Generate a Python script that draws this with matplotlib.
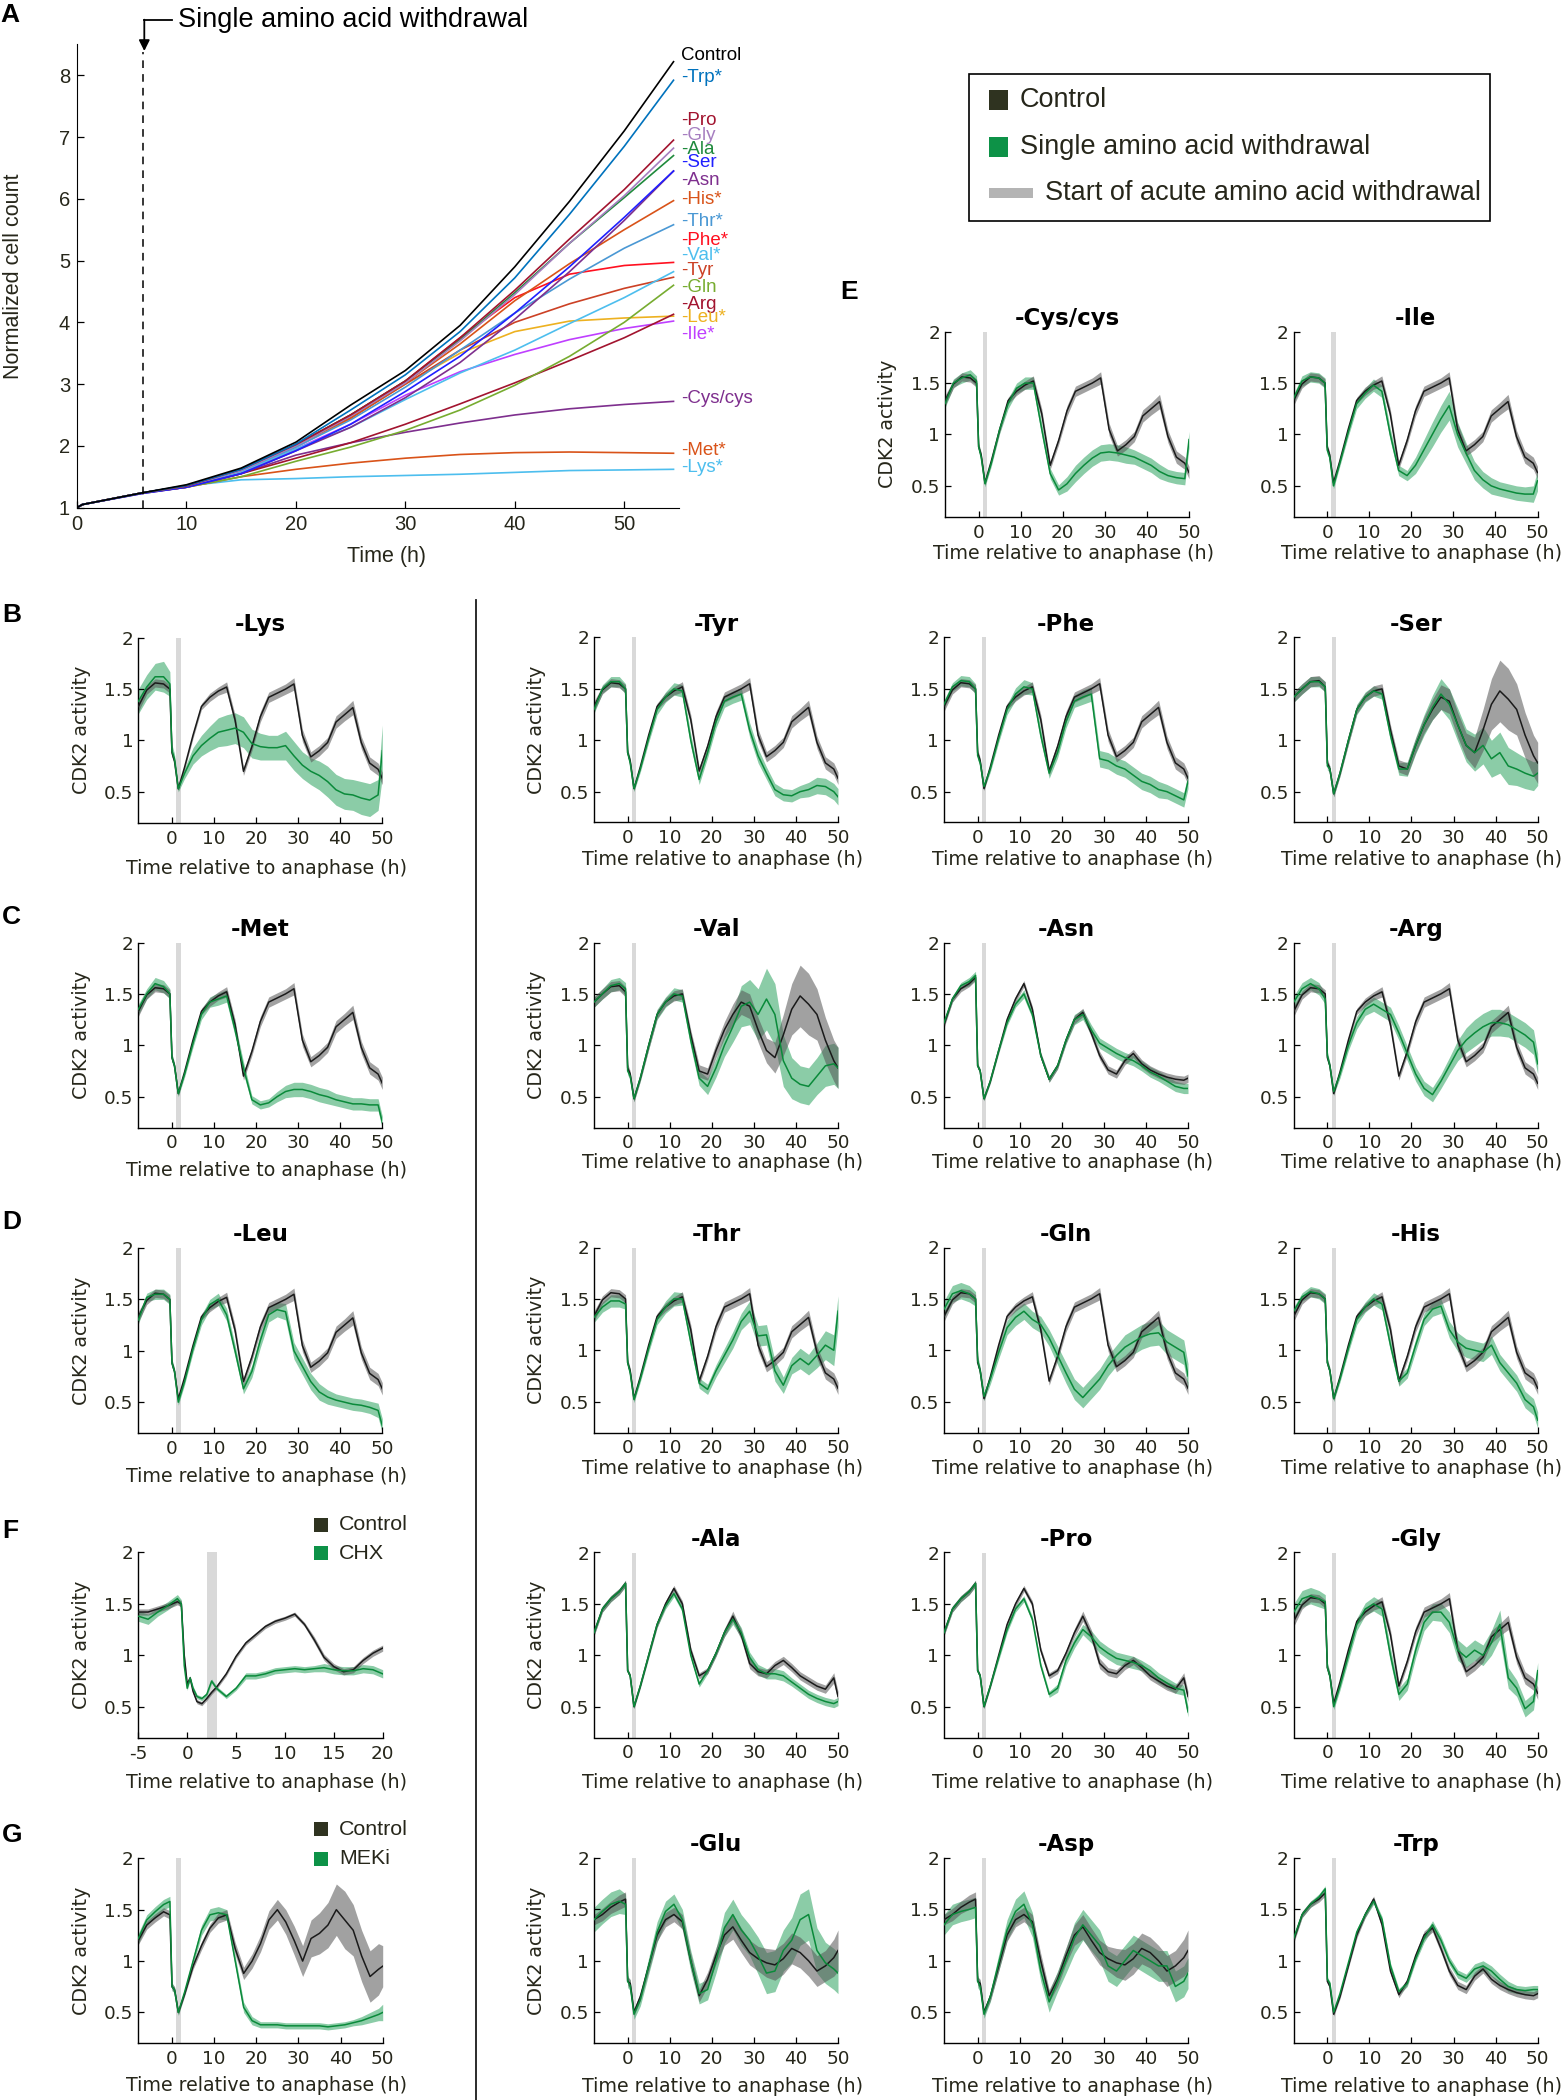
#!/usr/bin/python3
import matplotlib
matplotlib.use('Agg')
import matplotlib.pyplot as plt
from matplotlib.lines import Line2D
from matplotlib.patches import Rectangle, FancyArrowPatch
import numpy as np

W, H = 1562, 2100
TXT = '#26261a'
GREEN = '#0a8a3a'
GREEN_BAND = '#2ca25f'
GREY_BAND = '#555555'
ARIAL = ['Liberation Sans', 'DejaVu Sans']

# ---------------- panel A : normalized cell count ----------------
count_time = [0, 0.5, 6, 10, 15, 20, 25, 30, 35, 40, 45, 50, 54.5]
count_control = [1.0, 1.05, 1.24, 1.37, 1.64, 2.06, 2.66, 3.22, 3.95, 4.9, 5.96, 7.1, 8.22]
count_trp = [1.0, 1.05, 1.24, 1.36, 1.62, 2.03, 2.58, 3.15, 3.85, 4.72, 5.75, 6.85, 7.92]
count_pro = [1.0, 1.05, 1.24, 1.35, 1.62, 2.02, 2.5, 3.05, 3.75, 4.52, 5.35, 6.15, 6.95]
count_gly = [1.0, 1.05, 1.24, 1.35, 1.6, 2.0, 2.48, 3.02, 3.7, 4.45, 5.28, 6.05, 6.82]
count_ala = [1.0, 1.05, 1.24, 1.35, 1.62, 2.02, 2.5, 3.05, 3.72, 4.48, 5.28, 6.02, 6.7]
count_ser = [1.0, 1.05, 1.23, 1.33, 1.55, 1.92, 2.35, 2.88, 3.45, 4.15, 4.9, 5.7, 6.45]
count_asn = [1.0, 1.05, 1.23, 1.33, 1.55, 1.92, 2.3, 2.78, 3.35, 4.05, 4.82, 5.65, 6.45]
count_his = [1.0, 1.05, 1.24, 1.35, 1.62, 2.02, 2.45, 3.02, 3.65, 4.35, 4.95, 5.5, 5.97]
count_thr = [1.0, 1.05, 1.24, 1.35, 1.6, 1.98, 2.42, 2.95, 3.55, 4.15, 4.7, 5.2, 5.58]
count_phe = [1.0, 1.05, 1.24, 1.35, 1.62, 2.02, 2.5, 3.05, 3.75, 4.4, 4.78, 4.92, 4.97]
count_val = [1.0, 1.05, 1.24, 1.34, 1.58, 1.95, 2.3, 2.75, 3.18, 3.55, 3.98, 4.4, 4.82]
count_tyr = [1.0, 1.05, 1.24, 1.35, 1.62, 2.02, 2.45, 3.0, 3.55, 4.0, 4.3, 4.55, 4.73]
count_gln = [1.0, 1.05, 1.24, 1.33, 1.5, 1.75, 1.98, 2.25, 2.58, 2.98, 3.45, 4.0, 4.6]
count_arg = [1.0, 1.05, 1.24, 1.33, 1.55, 1.8, 2.05, 2.35, 2.68, 3.02, 3.38, 3.75, 4.13]
count_leu = [1.0, 1.05, 1.24, 1.35, 1.6, 1.98, 2.45, 3.0, 3.5, 3.85, 4.02, 4.07, 4.1]
count_ile = [1.0, 1.05, 1.24, 1.35, 1.58, 1.95, 2.35, 2.82, 3.2, 3.48, 3.72, 3.9, 4.02]
count_cys = [1.0, 1.05, 1.24, 1.33, 1.55, 1.85, 2.05, 2.22, 2.37, 2.5, 2.6, 2.67, 2.72]
count_met = [1.0, 1.05, 1.24, 1.33, 1.5, 1.62, 1.72, 1.8, 1.86, 1.89, 1.9, 1.89, 1.88]
count_lys = [1.0, 1.05, 1.24, 1.35, 1.45, 1.47, 1.5, 1.52, 1.54, 1.57, 1.6, 1.61, 1.62]

count_names = ['Control', '-Trp*', '-Pro', '-Gly', '-Ala', '-Ser', '-Asn', '-His*',
               '-Thr*', '-Phe*', '-Val*', '-Tyr', '-Gln', '-Arg', '-Leu*', '-Ile*',
               '-Cys/cys', '-Met*', '-Lys*']
count_series = [count_control, count_trp, count_pro, count_gly, count_ala, count_ser,
                count_asn, count_his, count_thr, count_phe, count_val, count_tyr,
                count_gln, count_arg, count_leu, count_ile, count_cys, count_met, count_lys]
count_colors = ['#000000', '#0072bd', '#a2142f', '#a67ec0', '#1f8a3c', '#2020ff',
                '#7e2f8e', '#d95319', '#4a98d4', '#ff1020', '#4dbeee', '#cc4125',
                '#77ac30', '#a2142f', '#edb120', '#bf3fff', '#7e2f8e', '#d95319', '#4dbeee']
count_label_y = [8.32, 7.97, 7.26, 7.03, 6.80, 6.58, 6.30, 5.99, 5.63, 5.32, 5.09,
                 4.84, 4.57, 4.29, 4.07, 3.80, 2.77, 1.93, 1.65]

# ---------------- CDK2 activity traces ----------------
t_cdk = [-8, -6, -4, -2, -0.5, 0, 0.6, 1.5, 3, 5, 7, 9, 11, 13, 15, 17, 19, 21, 23, 25,
         27, 29, 31, 33, 35, 37, 39, 41, 43, 45, 47, 49, 50]

ctrl_a = [1.33, 1.49, 1.56, 1.55, 1.5, 0.88, 0.8, 0.53, 0.74, 1.05, 1.33, 1.42, 1.48, 1.52, 1.2,
          0.7, 0.94, 1.23, 1.42, 1.46, 1.5, 1.55, 1.05, 0.84, 0.9, 0.98, 1.18, 1.25, 1.32, 0.98,
          0.78, 0.72, 0.63]
ctrl_a_err = [0.05, 0.04, 0.04, 0.04, 0.04, 0.03, 0.03, 0.02, 0.02, 0.03, 0.03, 0.04, 0.04, 0.05,
              0.05, 0.04, 0.04, 0.05, 0.05, 0.05, 0.05, 0.06, 0.06, 0.05, 0.05, 0.05, 0.06, 0.06,
              0.07, 0.06, 0.06, 0.06, 0.06]
ctrl_b = [1.42, 1.5, 1.57, 1.58, 1.52, 0.78, 0.72, 0.48, 0.68, 1.0, 1.3, 1.42, 1.48, 1.5, 1.1,
          0.75, 0.72, 0.95, 1.15, 1.3, 1.42, 1.38, 1.15, 0.95, 0.88, 1.1, 1.35, 1.48, 1.4, 1.3,
          1.05, 0.85, 0.78]
ctrl_b_err = [0.05, 0.05, 0.05, 0.05, 0.05, 0.04, 0.03, 0.03, 0.03, 0.04, 0.04, 0.04, 0.05, 0.05,
              0.05, 0.06, 0.06, 0.07, 0.08, 0.1, 0.12, 0.12, 0.12, 0.12, 0.15, 0.2, 0.25, 0.3,
              0.3, 0.25, 0.22, 0.2, 0.2]
ctrl_c = [1.22, 1.45, 1.55, 1.62, 1.7, 0.85, 0.8, 0.5, 0.7, 1.0, 1.3, 1.5, 1.65, 1.5, 1.05,
          0.8, 0.85, 1.02, 1.22, 1.38, 1.2, 0.92, 0.84, 0.82, 0.9, 0.95, 0.88, 0.8, 0.75, 0.7,
          0.67, 0.78, 0.6]
ctrl_c_err = [0.03, 0.03, 0.03, 0.03, 0.03, 0.02, 0.02, 0.02, 0.02, 0.02, 0.03, 0.03, 0.03, 0.03,
              0.03, 0.03, 0.03, 0.03, 0.04, 0.05, 0.05, 0.05, 0.04, 0.04, 0.04, 0.04, 0.04, 0.04,
              0.04, 0.04, 0.04, 0.05, 0.05]
ctrl_d = [1.2, 1.45, 1.55, 1.6, 1.66, 0.8, 0.75, 0.48, 0.65, 0.95, 1.25, 1.45, 1.6, 1.35, 0.9,
          0.67, 0.8, 1.05, 1.25, 1.32, 1.12, 0.9, 0.76, 0.72, 0.85, 0.92, 0.82, 0.76, 0.72, 0.69,
          0.67, 0.66, 0.68]
ctrl_d_err = [0.03, 0.03, 0.03, 0.03, 0.03, 0.02, 0.02, 0.02, 0.02, 0.02, 0.03, 0.03, 0.03, 0.03,
              0.03, 0.03, 0.03, 0.03, 0.04, 0.04, 0.04, 0.04, 0.04, 0.04, 0.04, 0.04, 0.04, 0.04,
              0.04, 0.04, 0.04, 0.04, 0.04]
ctrl_e = [1.4, 1.45, 1.52, 1.57, 1.6, 0.8, 0.78, 0.5, 0.65, 0.95, 1.25, 1.4, 1.45, 1.38, 1.0,
          0.66, 0.82, 1.05, 1.25, 1.33, 1.2, 1.08, 1.02, 0.98, 0.96, 1.02, 1.12, 1.08, 1.0, 0.9,
          0.95, 1.03, 1.1]
ctrl_e_err = [0.05, 0.06, 0.06, 0.07, 0.07, 0.04, 0.04, 0.03, 0.04, 0.05, 0.06, 0.07, 0.07, 0.07,
              0.07, 0.06, 0.07, 0.08, 0.1, 0.12, 0.12, 0.12, 0.12, 0.14, 0.15, 0.15, 0.15, 0.15,
              0.15, 0.15, 0.15, 0.18, 0.2]

lys = [1.38, 1.52, 1.62, 1.62, 1.55, 0.9, 0.82, 0.53, 0.68, 0.85, 0.95, 1.02, 1.08, 1.1, 1.12,
       1.08, 0.97, 0.94, 0.93, 0.93, 0.95, 0.85, 0.76, 0.7, 0.66, 0.6, 0.52, 0.48, 0.47, 0.44,
       0.42, 0.47, 0.9]
lys_err = [0.12, 0.12, 0.13, 0.15, 0.12, 0.06, 0.05, 0.03, 0.05, 0.08, 0.1, 0.12, 0.14, 0.15,
           0.15, 0.15, 0.14, 0.13, 0.12, 0.12, 0.14, 0.14, 0.13, 0.13, 0.14, 0.15, 0.15, 0.15,
           0.15, 0.16, 0.16, 0.15, 0.25]
met = [1.35, 1.5, 1.6, 1.57, 1.5, 0.88, 0.8, 0.53, 0.72, 1.02, 1.3, 1.42, 1.45, 1.48, 1.15,
       0.78, 0.47, 0.42, 0.44, 0.5, 0.55, 0.57, 0.57, 0.55, 0.52, 0.5, 0.47, 0.45, 0.43, 0.43,
       0.42, 0.42, 0.25]
met_err = [0.05, 0.05, 0.06, 0.06, 0.05, 0.04, 0.03, 0.03, 0.03, 0.04, 0.05, 0.05, 0.06, 0.06,
           0.06, 0.06, 0.04, 0.04, 0.04, 0.05, 0.06, 0.07, 0.07, 0.07, 0.07, 0.07, 0.06, 0.06,
           0.06, 0.06, 0.06, 0.06, 0.06]
leu = [1.3, 1.52, 1.55, 1.55, 1.5, 0.88, 0.8, 0.5, 0.7, 1.02, 1.3, 1.45, 1.5, 1.35, 1.0,
       0.63, 0.8, 1.1, 1.35, 1.4, 1.38, 1.0, 0.85, 0.7, 0.6, 0.55, 0.52, 0.5, 0.48, 0.47,
       0.45, 0.42, 0.27]
leu_err = [0.04, 0.04, 0.05, 0.05, 0.05, 0.04, 0.03, 0.03, 0.03, 0.04, 0.05, 0.05, 0.06, 0.06,
           0.06, 0.05, 0.06, 0.07, 0.07, 0.07, 0.08, 0.08, 0.08, 0.08, 0.08, 0.07, 0.06, 0.06,
           0.06, 0.06, 0.06, 0.07, 0.07]
cys = [1.3, 1.5, 1.55, 1.58, 1.52, 0.88, 0.78, 0.52, 0.72, 1.05, 1.3, 1.45, 1.5, 1.5, 1.05,
       0.62, 0.46, 0.52, 0.62, 0.7, 0.77, 0.82, 0.83, 0.82, 0.8, 0.78, 0.74, 0.7, 0.64, 0.6,
       0.58, 0.57, 0.95]
cys_err = [0.04, 0.04, 0.05, 0.05, 0.05, 0.04, 0.03, 0.03, 0.03, 0.04, 0.05, 0.05, 0.06, 0.06,
           0.06, 0.05, 0.05, 0.07, 0.08, 0.08, 0.08, 0.08, 0.08, 0.08, 0.08, 0.07, 0.07, 0.07,
           0.07, 0.06, 0.06, 0.06, 0.08]
ile = [1.35, 1.52, 1.56, 1.55, 1.5, 0.85, 0.78, 0.5, 0.72, 1.02, 1.3, 1.4, 1.48, 1.42, 1.0,
       0.65, 0.6, 0.7, 0.85, 1.0, 1.15, 1.28, 1.0, 0.82, 0.65, 0.56, 0.5, 0.47, 0.45, 0.43,
       0.42, 0.42, 0.55]
ile_err = [0.04, 0.05, 0.05, 0.05, 0.05, 0.04, 0.03, 0.03, 0.03, 0.04, 0.05, 0.05, 0.06, 0.06,
           0.06, 0.05, 0.05, 0.08, 0.1, 0.12, 0.13, 0.14, 0.12, 0.1, 0.09, 0.08, 0.08, 0.07,
           0.07, 0.07, 0.07, 0.08, 0.1]
tyr = [1.3, 1.5, 1.57, 1.57, 1.5, 0.88, 0.78, 0.53, 0.72, 1.02, 1.3, 1.42, 1.5, 1.48, 1.0,
       0.62, 0.88, 1.18, 1.38, 1.42, 1.45, 1.1, 0.85, 0.68, 0.52, 0.47, 0.46, 0.5, 0.52, 0.56,
       0.55, 0.5, 0.45]
tyr_err = [0.04, 0.04, 0.05, 0.05, 0.05, 0.04, 0.03, 0.03, 0.03, 0.04, 0.05, 0.05, 0.06, 0.06,
           0.06, 0.05, 0.05, 0.06, 0.06, 0.06, 0.06, 0.07, 0.07, 0.06, 0.06, 0.06, 0.06, 0.06,
           0.07, 0.08, 0.08, 0.08, 0.08]
phe = [1.35, 1.52, 1.58, 1.57, 1.5, 0.85, 0.78, 0.55, 0.72, 1.02, 1.3, 1.45, 1.52, 1.5, 1.05,
       0.68, 0.88, 1.18, 1.38, 1.42, 1.45, 0.82, 0.8, 0.75, 0.72, 0.66, 0.6, 0.57, 0.52, 0.5,
       0.46, 0.42, 0.6]
phe_err = [0.04, 0.04, 0.05, 0.05, 0.05, 0.04, 0.03, 0.03, 0.03, 0.04, 0.05, 0.06, 0.07, 0.06,
           0.06, 0.05, 0.05, 0.06, 0.06, 0.07, 0.07, 0.08, 0.08, 0.08, 0.08, 0.08, 0.08, 0.08,
           0.08, 0.07, 0.07, 0.07, 0.07]
ser = [1.42, 1.5, 1.57, 1.57, 1.52, 0.75, 0.72, 0.48, 0.68, 1.0, 1.3, 1.42, 1.48, 1.45, 1.05,
       0.72, 0.72, 0.95, 1.15, 1.32, 1.45, 1.35, 1.15, 0.95, 0.88, 0.95, 0.82, 0.88, 0.75, 0.72,
       0.68, 0.65, 0.68]
ser_err = [0.05, 0.05, 0.05, 0.05, 0.05, 0.04, 0.03, 0.03, 0.03, 0.04, 0.05, 0.05, 0.05, 0.05,
           0.06, 0.06, 0.07, 0.08, 0.1, 0.12, 0.15, 0.15, 0.16, 0.16, 0.18, 0.18, 0.18, 0.2,
           0.18, 0.16, 0.15, 0.14, 0.12]
val = [1.42, 1.5, 1.58, 1.6, 1.55, 0.75, 0.7, 0.48, 0.68, 1.0, 1.3, 1.42, 1.5, 1.48, 1.05,
       0.68, 0.6, 0.78, 1.0, 1.18, 1.38, 1.42, 1.3, 1.45, 1.3, 0.85, 0.68, 0.62, 0.6, 0.7,
       0.8, 0.82, 0.78]
val_err = [0.05, 0.05, 0.06, 0.06, 0.06, 0.04, 0.03, 0.03, 0.03, 0.04, 0.05, 0.05, 0.06, 0.06,
           0.07, 0.07, 0.08, 0.09, 0.11, 0.15, 0.2, 0.22, 0.25, 0.3, 0.3, 0.25, 0.2, 0.18, 0.18,
           0.18, 0.2, 0.2, 0.2]
asn = [1.22, 1.45, 1.58, 1.62, 1.68, 0.8, 0.75, 0.48, 0.65, 0.95, 1.22, 1.4, 1.5, 1.3, 0.9,
       0.67, 0.8, 1.05, 1.25, 1.3, 1.15, 1.02, 0.97, 0.92, 0.88, 0.85, 0.8, 0.74, 0.7, 0.65,
       0.6, 0.58, 0.58]
asn_err = [0.03, 0.03, 0.03, 0.04, 0.04, 0.03, 0.02, 0.02, 0.02, 0.03, 0.03, 0.03, 0.04, 0.04,
           0.03, 0.03, 0.03, 0.04, 0.05, 0.05, 0.05, 0.05, 0.05, 0.05, 0.05, 0.05, 0.05, 0.05,
           0.05, 0.05, 0.05, 0.05, 0.05]
arg = [1.42, 1.55, 1.6, 1.55, 1.45, 0.9, 0.8, 0.55, 0.72, 1.0, 1.22, 1.35, 1.4, 1.35, 1.3,
       1.12, 0.92, 0.72, 0.58, 0.52, 0.65, 0.8, 0.95, 1.05, 1.12, 1.18, 1.22, 1.22, 1.2, 1.15,
       1.1, 1.03, 0.82]
arg_err = [0.06, 0.06, 0.06, 0.06, 0.05, 0.04, 0.03, 0.03, 0.04, 0.05, 0.06, 0.06, 0.07, 0.07,
           0.07, 0.07, 0.07, 0.07, 0.07, 0.07, 0.07, 0.08, 0.1, 0.12, 0.13, 0.13, 0.13, 0.13,
           0.12, 0.12, 0.12, 0.12, 0.1]
thr = [1.32, 1.42, 1.48, 1.48, 1.45, 0.88, 0.78, 0.52, 0.72, 1.02, 1.3, 1.42, 1.5, 1.5, 1.08,
       0.68, 0.62, 0.8, 0.95, 1.1, 1.28, 1.38, 1.14, 1.15, 0.8, 0.66, 0.85, 0.92, 0.86, 0.95,
       1.05, 1.0, 1.38]
thr_err = [0.05, 0.05, 0.06, 0.06, 0.05, 0.04, 0.03, 0.03, 0.03, 0.04, 0.05, 0.06, 0.07, 0.06,
           0.06, 0.05, 0.05, 0.06, 0.07, 0.08, 0.08, 0.1, 0.1, 0.1, 0.1, 0.08, 0.08, 0.1, 0.1,
           0.12, 0.14, 0.15, 0.15]
gln = [1.4, 1.55, 1.58, 1.55, 1.5, 0.9, 0.8, 0.55, 0.72, 0.98, 1.22, 1.32, 1.38, 1.3, 1.25,
       1.12, 0.95, 0.78, 0.62, 0.54, 0.63, 0.72, 0.85, 0.95, 1.03, 1.08, 1.13, 1.16, 1.17, 1.08,
       1.03, 0.98, 0.75]
gln_err = [0.08, 0.08, 0.08, 0.08, 0.07, 0.05, 0.04, 0.04, 0.05, 0.06, 0.07, 0.08, 0.08, 0.08,
           0.08, 0.08, 0.09, 0.1, 0.1, 0.1, 0.1, 0.1, 0.1, 0.1, 0.12, 0.12, 0.12, 0.12, 0.12,
           0.12, 0.12, 0.12, 0.12]
his = [1.38, 1.52, 1.57, 1.55, 1.5, 0.88, 0.8, 0.53, 0.72, 1.02, 1.3, 1.42, 1.5, 1.45, 1.05,
       0.7, 0.78, 1.05, 1.3, 1.4, 1.43, 1.2, 1.08, 1.02, 1.0, 0.98, 1.05, 0.88, 0.78, 0.68,
       0.52, 0.45, 0.32]
his_err = [0.04, 0.04, 0.05, 0.05, 0.05, 0.04, 0.03, 0.03, 0.03, 0.04, 0.05, 0.05, 0.06, 0.06,
           0.06, 0.05, 0.05, 0.06, 0.06, 0.07, 0.07, 0.08, 0.09, 0.09, 0.09, 0.09, 0.09, 0.08,
           0.08, 0.08, 0.08, 0.08, 0.08]
ala = [1.22, 1.45, 1.55, 1.62, 1.7, 0.85, 0.8, 0.5, 0.7, 1.0, 1.3, 1.48, 1.6, 1.45, 1.0,
       0.72, 0.85, 1.02, 1.22, 1.35, 1.22, 0.98, 0.86, 0.82, 0.82, 0.8, 0.74, 0.68, 0.62, 0.58,
       0.55, 0.53, 0.55]
ala_err = [0.03, 0.03, 0.03, 0.03, 0.03, 0.02, 0.02, 0.02, 0.02, 0.03, 0.03, 0.03, 0.03, 0.03,
           0.03, 0.03, 0.03, 0.03, 0.04, 0.05, 0.05, 0.05, 0.05, 0.05, 0.05, 0.05, 0.04, 0.04,
           0.04, 0.04, 0.04, 0.04, 0.04]
pro = [1.22, 1.45, 1.55, 1.62, 1.7, 0.85, 0.8, 0.5, 0.7, 0.98, 1.25, 1.45, 1.55, 1.35, 0.9,
       0.62, 0.68, 0.95, 1.12, 1.25, 1.18, 1.08, 1.02, 0.97, 0.95, 0.93, 0.9, 0.85, 0.78, 0.73,
       0.68, 0.66, 0.45]
pro_err = [0.03, 0.03, 0.03, 0.03, 0.03, 0.02, 0.02, 0.02, 0.02, 0.03, 0.03, 0.03, 0.03, 0.03,
           0.03, 0.03, 0.04, 0.05, 0.05, 0.05, 0.06, 0.06, 0.06, 0.06, 0.06, 0.06, 0.05, 0.05,
           0.05, 0.05, 0.05, 0.05, 0.05]
gly = [1.42, 1.55, 1.58, 1.55, 1.52, 0.88, 0.8, 0.5, 0.7, 1.0, 1.3, 1.45, 1.5, 1.45, 1.0,
       0.62, 0.72, 1.05, 1.32, 1.42, 1.42, 1.32, 1.05, 0.98, 1.05, 1.0, 1.12, 1.3, 0.78, 0.68,
       0.48, 0.55, 0.85]
gly_err = [0.08, 0.08, 0.08, 0.08, 0.07, 0.05, 0.04, 0.03, 0.04, 0.05, 0.06, 0.06, 0.07, 0.07,
           0.07, 0.06, 0.06, 0.07, 0.08, 0.08, 0.09, 0.1, 0.1, 0.1, 0.1, 0.1, 0.12, 0.14, 0.1,
           0.08, 0.08, 0.08, 0.08]
glu = [1.4, 1.48, 1.55, 1.58, 1.55, 0.8, 0.76, 0.48, 0.62, 0.95, 1.28, 1.48, 1.55, 1.4, 1.0,
       0.68, 0.72, 1.0, 1.32, 1.45, 1.3, 1.2, 1.05, 0.88, 0.9, 1.1, 1.2, 1.4, 1.45, 1.1,
       0.98, 0.92, 0.88]
glu_err = [0.12, 0.12, 0.12, 0.12, 0.1, 0.06, 0.05, 0.05, 0.06, 0.08, 0.1, 0.1, 0.1, 0.1,
           0.1, 0.1, 0.1, 0.12, 0.15, 0.15, 0.15, 0.15, 0.18, 0.2, 0.2, 0.2, 0.22, 0.25, 0.25,
           0.22, 0.2, 0.2, 0.2]
asp = [1.35, 1.45, 1.48, 1.5, 1.52, 0.8, 0.75, 0.48, 0.65, 0.98, 1.3, 1.48, 1.55, 1.35, 0.9,
       0.6, 0.8, 1.0, 1.22, 1.35, 1.25, 1.15, 0.95, 0.9, 1.0, 1.1, 1.05, 1.0, 0.95, 0.95,
       0.75, 0.8, 0.88]
asp_err = [0.1, 0.1, 0.1, 0.1, 0.1, 0.06, 0.05, 0.04, 0.05, 0.08, 0.1, 0.12, 0.13, 0.12,
           0.1, 0.1, 0.1, 0.12, 0.15, 0.15, 0.15, 0.15, 0.15, 0.15, 0.15, 0.15, 0.15, 0.15,
           0.15, 0.15, 0.15, 0.15, 0.15]
trp = [1.22, 1.45, 1.55, 1.62, 1.7, 0.82, 0.78, 0.5, 0.68, 0.98, 1.28, 1.45, 1.58, 1.4, 0.95,
       0.7, 0.78, 1.02, 1.22, 1.35, 1.2, 1.0, 0.87, 0.83, 0.92, 0.95, 0.9, 0.82, 0.75, 0.72,
       0.71, 0.72, 0.72]
trp_err = [0.03, 0.03, 0.03, 0.03, 0.03, 0.02, 0.02, 0.02, 0.02, 0.03, 0.03, 0.03, 0.03, 0.03,
           0.03, 0.03, 0.03, 0.03, 0.04, 0.04, 0.04, 0.04, 0.04, 0.04, 0.05, 0.05, 0.05, 0.05,
           0.05, 0.04, 0.04, 0.04, 0.04]

# panel G : MEK inhibitor
ctrl_g = [1.2, 1.35, 1.42, 1.48, 1.45, 0.75, 0.72, 0.5, 0.68, 0.95, 1.15, 1.32, 1.42, 1.45, 1.12,
          0.88, 1.0, 1.17, 1.4, 1.5, 1.38, 1.2, 1.0, 1.22, 1.27, 1.35, 1.5, 1.4, 1.3, 1.05,
          0.85, 0.92, 0.95]
ctrl_g_err = [0.04, 0.04, 0.04, 0.04, 0.04, 0.03, 0.03, 0.02, 0.02, 0.03, 0.04, 0.04, 0.05, 0.05,
              0.06, 0.06, 0.07, 0.08, 0.09, 0.1, 0.12, 0.14, 0.15, 0.18, 0.2, 0.22, 0.25, 0.28,
              0.25, 0.25, 0.25, 0.25, 0.2]
meki = [1.22, 1.4, 1.48, 1.55, 1.58, 0.75, 0.72, 0.5, 0.7, 1.0, 1.3, 1.45, 1.47, 1.45, 1.0,
        0.55, 0.42, 0.38, 0.38, 0.38, 0.37, 0.37, 0.37, 0.37, 0.37, 0.36, 0.37, 0.38, 0.4, 0.42,
        0.45, 0.48, 0.5]
meki_err = [0.05, 0.05, 0.05, 0.05, 0.05, 0.04, 0.03, 0.03, 0.03, 0.04, 0.05, 0.06, 0.06, 0.05,
            0.05, 0.05, 0.04, 0.03, 0.03, 0.03, 0.03, 0.03, 0.03, 0.03, 0.03, 0.03, 0.03, 0.03,
            0.03, 0.04, 0.05, 0.06, 0.08]

# panel F : cycloheximide
t_chx = [-5, -4, -3, -2, -1, -0.6, -0.3, 0, 0.3, 0.6, 1, 1.5, 2, 2.5, 3, 4, 5, 6, 7, 8, 9, 10,
         11, 12, 13, 14, 15, 16, 17, 18, 19, 20]
ctrl_f = [1.42, 1.42, 1.45, 1.48, 1.52, 1.5, 1.0, 0.72, 0.78, 0.65, 0.55, 0.53, 0.58, 0.64, 0.69,
          0.82, 0.99, 1.12, 1.2, 1.28, 1.33, 1.36, 1.4, 1.3, 1.15, 0.98, 0.89, 0.84, 0.86, 0.95,
          1.02, 1.07]
ctrl_f_err = [0.03, 0.03, 0.03, 0.03, 0.03, 0.03, 0.02, 0.02, 0.02, 0.02, 0.02, 0.02, 0.02, 0.02,
              0.02, 0.02, 0.02, 0.02, 0.02, 0.02, 0.02, 0.02, 0.02, 0.02, 0.03, 0.03, 0.03, 0.03,
              0.03, 0.03, 0.03, 0.03]
chx = [1.38, 1.35, 1.42, 1.48, 1.55, 1.5, 0.9, 0.68, 0.78, 0.68, 0.6, 0.58, 0.62, 0.75, 0.68,
       0.6, 0.68, 0.8, 0.8, 0.82, 0.85, 0.86, 0.87, 0.86, 0.87, 0.88, 0.86, 0.85, 0.85, 0.87,
       0.86, 0.82]
chx_err = [0.05, 0.05, 0.04, 0.04, 0.04, 0.04, 0.03, 0.02, 0.02, 0.02, 0.02, 0.02, 0.02, 0.02,
           0.02, 0.02, 0.02, 0.03, 0.03, 0.03, 0.03, 0.03, 0.03, 0.03, 0.03, 0.04, 0.04, 0.04,
           0.04, 0.04, 0.04, 0.04]


def fx(px):
    return px / W


def fy(py):
    return 1 - py / H


def axes_px(fig, left, top, width, height):
    return fig.add_axes([left / W, 1 - (top + height) / H, width / W, height / H])


def letter(fig, x, y, s):
    fig.text(fx(x), fy(y), s, fontsize=19, fontweight='bold', family=ARIAL,
             ha='left', va='center', color='k')


def cdk2_panel(ax, t, ctrl, ctrl_err, trt, trt_err, title=None, ylabel=True,
               xlim=(-8, 50), xticks=(0, 10, 20, 30, 40, 50), bar=(1.0, 2.1), xgap=44):
    t = np.asarray(t)
    c, ce = np.asarray(ctrl), np.asarray(ctrl_err)
    g, ge = np.asarray(trt), np.asarray(trt_err)
    ax.axvspan(bar[0], bar[1], color='#d9d9d9', lw=0, zorder=0)
    ax.fill_between(t, g - ge, g + ge, color=GREEN_BAND, alpha=0.55, lw=0, zorder=1)
    ax.fill_between(t, c - ce, c + ce, color=GREY_BAND, alpha=0.55, lw=0, zorder=2)
    ax.plot(t, c, color='#1a1a1a', lw=1.1, zorder=3)
    ax.plot(t, g, color=GREEN, lw=1.1, zorder=4)
    ax.set_xlim(xlim)
    ax.set_ylim(0.2, 2)
    ax.set_xticks(list(xticks), labels=[str(v) for v in xticks], fontsize=13.2)
    ax.set_yticks([0.5, 1, 1.5, 2], labels=['0.5', '1', '1.5', '2'], fontsize=13.2)
    for s in ['top', 'right']:
        ax.spines[s].set_visible(False)
    for s in ['left', 'bottom']:
        ax.spines[s].set_linewidth(1.0)
    ax.tick_params(direction='in', length=4, width=0.9, labelcolor=TXT)
    ax.tick_params(axis='x', pad=5)
    ax.tick_params(axis='y', pad=3.5)
    ax.set_xlabel('Time relative to anaphase (h)', fontsize=13.7, color=TXT)
    ax.xaxis.set_label_coords(0.525, -(xgap - 11) / 185)
    if ylabel:
        ax.set_ylabel('CDK2 activity', fontsize=13.7, color=TXT)
        ax.yaxis.set_label_coords(-0.195, 0.5)
    if title:
        ax.set_title(title, fontsize=16.5, fontweight='bold', pad=5)


def small_legend(fig, x, y1, y2, names):
    for yc, col, name in [(y1, '#2f3320', names[0]), (y2, '#0d9247', names[1])]:
        fig.patches.append(Rectangle((fx(314), fy(yc + 7)), 14 / W, 14 / H,
                                     transform=fig.transFigure, color=col, lw=0))
        fig.text(fx(x), fy(yc), name, fontsize=15.4, family=ARIAL, color=TXT,
                 ha='left', va='center')


def main():
    plt.rcParams['font.family'] = ['DejaVu Sans']
    fig = plt.figure(figsize=(W / 100, H / 100), dpi=100)

    # ---- A ----
    axA = axes_px(fig, 77, 44.4, 602, 463.2)
    for vals, col in zip(count_series[::-1], count_colors[::-1]):
        axA.plot(count_time, vals, color=col, lw=1.2)
    axA.plot([6, 6], [1, 8.38], color='k', lw=1.1, ls=(0, (5, 4)))
    axA.set_xlim(0, 55)
    axA.set_ylim(1, 8.5)
    axA.set_xticks([0, 10, 20, 30, 40, 50], labels=['0', '10', '20', '30', '40', '50'],
                   fontsize=14.5, family=ARIAL)
    axA.set_yticks(range(1, 9), labels=[str(v) for v in range(1, 9)],
                   fontsize=14.5, family=ARIAL)
    for s in ['top', 'right']:
        axA.spines[s].set_visible(False)
    axA.tick_params(direction='in', length=5, width=0.9, labelcolor=TXT)
    axA.tick_params(axis='x', pad=5)
    axA.tick_params(axis='y', pad=5)
    axA.set_xlabel('Time (h)', fontsize=15.5, family=ARIAL, color=TXT)
    axA.xaxis.set_label_coords(0.514, -38 / 463.2)
    axA.set_ylabel('Normalized cell count', fontsize=15.5, family=ARIAL, color=TXT)
    axA.yaxis.set_label_coords(-53 / 602, 0.5)
    for name, yl, col in zip(count_names, count_label_y, count_colors):
        axA.text(55.2, yl, name, color=col, fontsize=13.5, family=ARIAL,
                 ha='left', va='center', clip_on=False)
    fig.add_artist(Line2D([fx(144.3), fx(171.6)], [fy(20.3), fy(20.3)], color='k', lw=1.3))
    fig.add_artist(FancyArrowPatch((fx(144.3), fy(19.7)), (fx(144.3), fy(51)),
                                   transform=fig.transFigure, arrowstyle='-|>',
                                   mutation_scale=16, lw=1.3, color='k',
                                   shrinkA=0, shrinkB=0))
    fig.text(fx(177.6), fy(20.3), 'Single amino acid withdrawal', fontsize=19.5,
             family=ARIAL, color='k', ha='left', va='center')
    letter(fig, 0, 15, 'A')

    # ---- legend box ----
    fig.patches.append(Rectangle((fx(969), fy(221)), (1490 - 969) / W, (221 - 74) / H,
                                 transform=fig.transFigure, fill=False, ec='k', lw=1.2))
    fig.patches.append(Rectangle((fx(988.6), fy(109.6)), 19.3 / W, 19.3 / H,
                                 transform=fig.transFigure, color='#2f3320', lw=0))
    fig.patches.append(Rectangle((fx(988.6), fy(156.6)), 19.3 / W, 19.3 / H,
                                 transform=fig.transFigure, color='#0d9247', lw=0))
    fig.patches.append(Rectangle((fx(988.6), fy(198)), 44.4 / W, 10 / H,
                                 transform=fig.transFigure, color='#b4b4b4', lw=0))
    for x, y, s in [(1020, 100, 'Control'), (1020, 147, 'Single amino acid withdrawal'),
                    (1044.7, 193, 'Start of acute amino acid withdrawal')]:
        fig.text(fx(x), fy(y), s, fontsize=19.5, family=ARIAL, color=TXT,
                 ha='left', va='center')

    # ---- CDK2 panels ----
    panels = [
        ('-Cys/cys', 945, 331.7, ctrl_a, ctrl_a_err, cys, cys_err, True, 38),
        ('-Ile', 1293.5, 331.7, ctrl_a, ctrl_a_err, ile, ile_err, False, 38),
        ('-Lys', 138.3, 637.7, ctrl_a, ctrl_a_err, lys, lys_err, True, 47),
        ('-Met', 138.3, 942.5, ctrl_a, ctrl_a_err, met, met_err, True, 45),
        ('-Leu', 138.3, 1248, ctrl_a, ctrl_a_err, leu, leu_err, True, 45),
        ('-Tyr', 594, 637.5, ctrl_a, ctrl_a_err, tyr, tyr_err, True, 39),
        ('-Phe', 944, 637.5, ctrl_a, ctrl_a_err, phe, phe_err, False, 39),
        ('-Ser', 1293.7, 637.5, ctrl_b, ctrl_b_err, ser, ser_err, False, 39),
        ('-Val', 594, 942.5, ctrl_b, ctrl_b_err, val, val_err, True, 37),
        ('-Asn', 944, 942.5, ctrl_d, ctrl_d_err, asn, asn_err, False, 37),
        ('-Arg', 1293.7, 942.5, ctrl_a, ctrl_a_err, arg, arg_err, False, 37),
        ('-Thr', 594, 1247.5, ctrl_a, ctrl_a_err, thr, thr_err, True, 37),
        ('-Gln', 944, 1247.5, ctrl_a, ctrl_a_err, gln, gln_err, False, 37),
        ('-His', 1293.7, 1247.5, ctrl_a, ctrl_a_err, his, his_err, False, 37),
        ('-Ala', 594, 1552.5, ctrl_c, ctrl_c_err, ala, ala_err, True, 46),
        ('-Pro', 944, 1552.5, ctrl_c, ctrl_c_err, pro, pro_err, False, 46),
        ('-Gly', 1293.7, 1552.5, ctrl_a, ctrl_a_err, gly, gly_err, False, 46),
        ('-Glu', 594, 1858, ctrl_e, ctrl_e_err, glu, glu_err, True, 45),
        ('-Asp', 944, 1858, ctrl_e, ctrl_e_err, asp, asp_err, False, 45),
        ('-Trp', 1293.7, 1858, ctrl_d, ctrl_d_err, trp, trp_err, False, 45),
    ]
    for title, left, top, c, ce, g, ge, yl, gap in panels:
        ax = axes_px(fig, left, top, 244, 185)
        cdk2_panel(ax, t_cdk, c, ce, g, ge, title=title, ylabel=yl, xgap=gap)

    # F : cycloheximide
    axF = axes_px(fig, 138.3, 1552.3, 244.4, 185.4)
    cdk2_panel(axF, t_chx, ctrl_f, ctrl_f_err, chx, chx_err, xlim=(-5, 20),
               xticks=(-5, 0, 5, 10, 15, 20), bar=(2.0, 3.0), xgap=46)
    small_legend(fig, 339.3, 1525, 1553.3, ['Control', 'CHX'])

    # G : MEK inhibitor
    axG = axes_px(fig, 138.3, 1858.3, 244.4, 185)
    cdk2_panel(axG, t_cdk, ctrl_g, ctrl_g_err, meki, meki_err, xgap=44)
    small_legend(fig, 339.3, 1829.3, 1859, ['Control', 'MEKi'])

    for x, y, s in [(2, 615, 'B'), (2, 917, 'C'), (2, 1222, 'D'), (840, 292, 'E'),
                    (2, 1531, 'F'), (2, 1835, 'G')]:
        letter(fig, x, y, s)

    # divider between left column and grid
    fig.add_artist(Line2D([fx(475.6), fx(475.6)], [fy(600), fy(2100)], color='#1a1a1a', lw=1.3))

    fig.savefig('out.png', dpi=100)


if __name__ == '__main__':
    main()
